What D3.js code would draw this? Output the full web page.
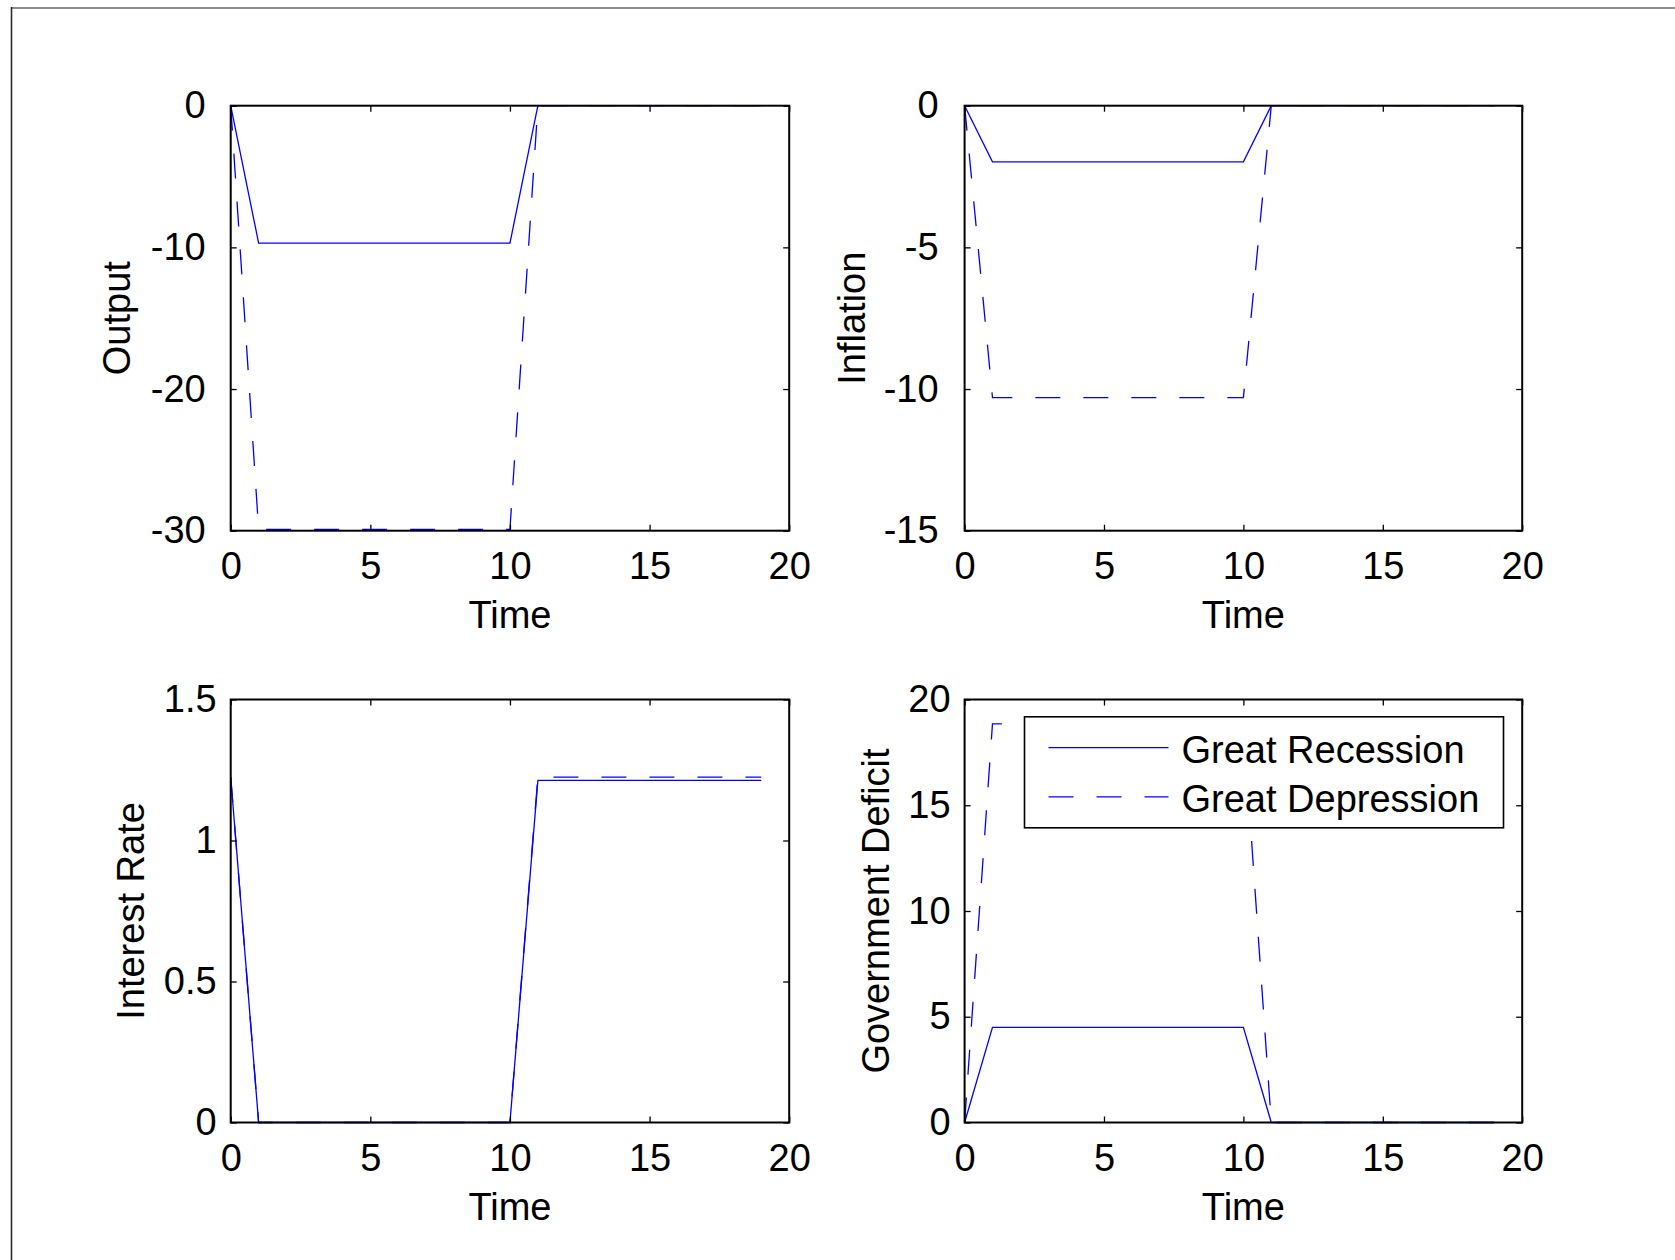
<!DOCTYPE html>
<html>
<head>
<meta charset="utf-8">
<script src="https://cdn.jsdelivr.net/npm/d3@7"></script>
<style>
    html, body { margin: 0; padding: 0; background: #fff; }
    svg { display: block; font-family: "Liberation Sans", Arial, Helvetica, sans-serif; }
</style>
</head>
<body>
<svg id="fig" width="1675" height="1260"></svg>
<script>
'use strict';

// values, one per period t = 0..19
var time = [0, 1, 2, 3, 4, 5, 6, 7, 8, 9, 10, 11, 12, 13, 14, 15, 16, 17, 18, 19];

var outputRecession = [0, -9.7, -9.7, -9.7, -9.7, -9.7, -9.7, -9.7, -9.7, -9.7, -9.7, 0, 0, 0, 0, 0, 0, 0, 0, 0];
var outputDepression = [0, -29.9, -29.9, -29.9, -29.9, -29.9, -29.9, -29.9, -29.9, -29.9, -29.9, 0, 0, 0, 0, 0, 0, 0, 0, 0];

var inflationRecession = [0, -1.98, -1.98, -1.98, -1.98, -1.98, -1.98, -1.98, -1.98, -1.98, -1.98, 0, 0, 0, 0, 0, 0, 0, 0, 0];
var inflationDepression = [0, -10.3, -10.3, -10.3, -10.3, -10.3, -10.3, -10.3, -10.3, -10.3, -10.3, 0, 0, 0, 0, 0, 0, 0, 0, 0];

var interestRecession = [1.225, 0, 0, 0, 0, 0, 0, 0, 0, 0, 0, 1.213, 1.213, 1.213, 1.213, 1.213, 1.213, 1.213, 1.213, 1.213];
var interestDepression = [1.225, 0, 0, 0, 0, 0, 0, 0, 0, 0, 0, 1.225, 1.225, 1.225, 1.225, 1.225, 1.225, 1.225, 1.225, 1.225];

var deficitRecession = [0, 4.5, 4.5, 4.5, 4.5, 4.5, 4.5, 4.5, 4.5, 4.5, 4.5, 0, 0, 0, 0, 0, 0, 0, 0, 0];
var deficitDepression = [0, 18.85, 18.85, 18.85, 18.85, 18.85, 18.85, 18.85, 18.85, 18.85, 18.85, 0, 0, 0, 0, 0, 0, 0, 0, 0];

var xTicks = [0, 5, 10, 15, 20];
var xLabel = 'Time';
var seriesNames = ['Great Recession', 'Great Depression'];

var panelTitles = ['Output', 'Inflation', 'Interest Rate', 'Government Deficit'];
var panelDomains = [[-30, 0], [-15, 0], [0, 1.5], [0, 20]];
var panelTicks = [[-30, -20, -10, 0], [-15, -10, -5, 0], [0, 0.5, 1, 1.5], [0, 5, 10, 15, 20]];
var panelSeries = [
    [outputRecession, outputDepression],
    [inflationRecession, inflationDepression],
    [interestRecession, interestDepression],
    [deficitRecession, deficitDepression]
];

// layout (pixels)
var boxes = [
    {left: 230.7, top: 105.7, width: 558.5, height: 425, yPad: 25, labelOff: 101},
    {left: 964.6, top: 105.7, width: 557.6, height: 425, yPad: 26, labelOff: 100},
    {left: 230.7, top: 699.5, width: 558.5, height: 423, yPad: 14, labelOff: 87},
    {left: 964.6, top: 699.5, width: 557.6, height: 423, yPad: 14, labelOff: 75.5}
];
var FONT = 38;
var TICK = 6;
var BLUE = '#0000ff';
var DASH = '25,23';

var svg = d3.select('#fig');

// figure frame (only top and left edges visible)
svg.append('line')
    .attr('x1', 11).attr('y1', 8).attr('x2', 1675).attr('y2', 8)
    .attr('stroke', '#8c8c8c').attr('stroke-width', 2);
svg.append('line')
    .attr('x1', 11.5).attr('y1', 7).attr('x2', 11.5).attr('y2', 1260)
    .attr('stroke', '#2a2a2a').attr('stroke-width', 1.6);

function fmt(d) {
    return String(d);
}

function drawPanel(i) {
    var b = boxes[i];
    var g = svg.append('g').attr('transform', 'translate(' + b.left + ',' + b.top + ')');
    var x = d3.scaleLinear().domain([0, 20]).range([0, b.width]);
    var y = d3.scaleLinear().domain(panelDomains[i]).range([b.height, 0]);
    var line;
    var axes;

    g.append('rect')
        .attr('width', b.width)
        .attr('height', b.height)
        .attr('fill', '#fff');

    line = d3.line()
        .x(function (d, k) { return x(time[k]); })
        .y(function (d) { return y(d); });

    panelSeries[i].forEach(function (vals, s) {
        g.append('path')
            .datum(vals)
            .attr('d', line)
            .attr('fill', 'none')
            .attr('stroke', BLUE)
            .attr('stroke-width', 1.3)
            .attr('stroke-dasharray', s === 1 ? DASH : null);
    });

    axes = [
        {axis: d3.axisBottom(x).tickValues(xTicks).tickFormat(fmt).tickPadding(21.5), at: [0, b.height]},
        {axis: d3.axisTop(x).tickValues(xTicks).tickFormat(''), at: [0, 0]},
        {axis: d3.axisLeft(y).tickValues(panelTicks[i]).tickFormat(fmt).tickPadding(b.yPad), at: [0, 0]},
        {axis: d3.axisRight(y).tickValues(panelTicks[i]).tickFormat(''), at: [b.width, 0]}
    ];

    axes.forEach(function (a) {
        var ag = g.append('g')
            .attr('transform', 'translate(' + a.at[0] + ',' + a.at[1] + ')')
            .call(a.axis.tickSizeInner(-TICK).tickSizeOuter(0));
        ag.select('.domain').remove();
        ag.selectAll('.tick line').attr('stroke', '#000').attr('stroke-width', 1.3);
        ag.selectAll('.tick text')
            .attr('fill', '#000')
            .style('font-size', FONT + 'px')
            .style('font-family', '"Liberation Sans", Arial, sans-serif');
    });

    g.append('rect')
        .attr('width', b.width)
        .attr('height', b.height)
        .attr('fill', 'none')
        .attr('stroke', '#000')
        .attr('stroke-width', 2);

    g.append('text')
        .attr('x', b.width / 2)
        .attr('y', b.height + 97)
        .attr('text-anchor', 'middle')
        .style('font-size', FONT + 'px')
        .text(xLabel);

    g.append('text')
        .attr('transform', 'translate(' + (-b.labelOff) + ',' + (b.height / 2) + ') rotate(-90)')
        .attr('text-anchor', 'middle')
        .style('font-size', FONT + 'px')
        .text(panelTitles[i]);
}

function drawLegend() {
    var lg = svg.append('g').attr('transform', 'translate(1024.5,716.8)');
    lg.append('rect')
        .attr('width', 479)
        .attr('height', 111)
        .attr('fill', '#fff')
        .attr('stroke', '#000')
        .attr('stroke-width', 1.6);

    seriesNames.forEach(function (name, s) {
        var yy = 30.8 + s * 49.2;
        lg.append('line')
            .attr('x1', 24).attr('x2', 144)
            .attr('y1', yy).attr('y2', yy)
            .attr('stroke', BLUE)
            .attr('stroke-width', 1.3)
            .attr('stroke-dasharray', s === 1 ? DASH : null);
        lg.append('text')
            .attr('x', 157)
            .attr('y', yy + 15)
            .style('font-size', FONT + 'px')
            .text(name);
    });
}

for (var p = 0; p < 4; p++) {
    drawPanel(p);
}
drawLegend();
</script>
</body>
</html>
